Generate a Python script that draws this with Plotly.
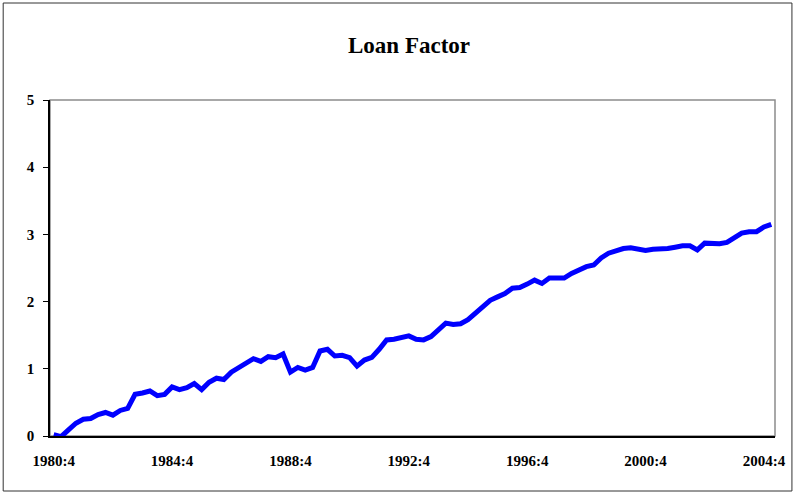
import plotly.graph_objects as go

# Quarterly observations 1980:4 .. 2005:1
loan_factor = [
    0.02, -0.01, 0.09, 0.19, 0.25, 0.26, 0.32, 0.35, 0.31, 0.38,
    0.41, 0.62, 0.64, 0.67, 0.60, 0.62, 0.73, 0.69, 0.72, 0.78,
    0.69, 0.80, 0.86, 0.84, 0.95, 1.01, 1.07, 1.15, 1.11, 1.18,
    1.165, 1.22, 0.95, 1.02, 0.98, 1.02, 1.265, 1.29, 1.19, 1.20,
    1.165, 1.04, 1.13, 1.17, 1.29, 1.43, 1.44, 1.46, 1.49, 1.44,
    1.43, 1.48, 1.59, 1.68, 1.66, 1.67, 1.73, 1.83, 1.92, 2.02,
    2.07, 2.12, 2.20, 2.21, 2.26, 2.32, 2.27, 2.35, 2.35, 2.35,
    2.42, 2.48, 2.52, 2.545, 2.65, 2.72, 2.76, 2.79, 2.80, 2.78,
    2.76, 2.78, 2.78, 2.79, 2.81, 2.83, 2.83, 2.77, 2.87, 2.86,
    2.86, 2.88, 2.94, 3.02, 3.04, 3.04, 3.11, 3.15,
]

def quarter_label(i, start_year=1980, start_q=4):
    t = (start_year * 4 + start_q - 1) + i
    return f"{t // 4}:{t % 4 + 1}"

quarters = [quarter_label(i) for i in range(len(loan_factor))]
tick_positions = list(range(0, len(loan_factor), 16))
tick_labels = [quarters[i] for i in tick_positions]
y_ticks = [0, 1, 2, 3, 4, 5]

FONT = "Liberation Serif, Times New Roman, serif"

fig = go.Figure()
fig.add_trace(go.Scatter(
    x=list(range(len(loan_factor))),
    y=loan_factor,
    mode="lines",
    line=dict(color="#0000FF", width=5),
    hoverinfo="skip",
    showlegend=False,
    cliponaxis=False,
))

W, H = 798, 495
L, R, T, B = 50, 778, 100, 436
pw, ph = R - L, B - T

def px_x(x):
    return (x - L) / pw

def px_y(y):
    return (B - y) / ph

fig.update_layout(
    width=W, height=H,
    margin=dict(l=L, r=W - R, t=T, b=H - B, pad=0),
    paper_bgcolor="white",
    plot_bgcolor="white",
    font=dict(family=FONT, size=15, color="black"),
    showlegend=False,
    xaxis=dict(
        range=[-0.5, len(loan_factor) - 0.5],
        tickmode="array",
        tickvals=tick_positions,
        ticktext=tick_labels,
        showgrid=False,
        zeroline=False,
        showline=True,
        linecolor="black",
        linewidth=1.5,
        ticks="",
        ticklabelstandoff=10,
        tickfont=dict(family=FONT, size=15, color="black", weight="bold"),
        fixedrange=True,
    ),
    yaxis=dict(
        range=[0, 5],
        tickmode="array",
        tickvals=y_ticks,
        ticktext=[str(v) for v in y_ticks],
        showgrid=False,
        zeroline=False,
        showline=True,
        linecolor="black",
        linewidth=1.5,
        ticks="outside",
        ticklen=5,
        tickwidth=1,
        tickcolor="black",
        ticklabelstandoff=6,
        tickfont=dict(family=FONT, size=15, color="black", weight="bold"),
        fixedrange=True,
    ),
    shapes=[
        # plot area frame (grey top/right)
        dict(type="rect", xref="paper", yref="paper", x0=0, y0=0, x1=1, y1=1,
             line=dict(color="#8c8c8c", width=1.5), layer="below"),
        # outer chart frame
        dict(type="rect", xref="paper", yref="paper",
             x0=px_x(3), x1=px_x(795), y0=px_y(491), y1=px_y(3),
             line=dict(color="#333333", width=1)),
    ],
    annotations=[
        dict(text="<b>Loan Factor</b>", xref="paper", yref="paper",
             x=px_x(410), y=px_y(46), xanchor="center", yanchor="middle",
             showarrow=False, font=dict(family=FONT, size=23, color="black")),
    ],
)

fig.write_html(
    "out.html",
    include_plotlyjs=True,
    config={"displayModeBar": False},
    post_script="document.body.style.margin='0px';document.body.style.padding='0px';",
)
